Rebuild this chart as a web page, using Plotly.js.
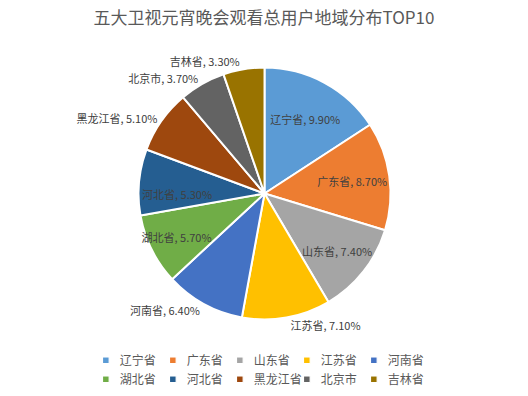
<!DOCTYPE html>
<html>
<head>
<meta charset="utf-8">
<script src="https://cdn.plot.ly/plotly-3.0.1.min.js"></script>
<style>html,body{margin:0;padding:0;background:#fff;}#chart{width:528px;height:396px;}</style>
</head>
<body>
<div id="chart"></div>
<script>
const titleText = '五大卫视元宵晚会观看总用户地域分布TOP10';
const regions = ['辽宁省','广东省','山东省','江苏省','河南省','湖北省','河北省','黑龙江省','北京市','吉林省'];
const shares = [9.9, 8.7, 7.4, 7.1, 6.4, 5.7, 5.3, 5.1, 3.7, 3.3];
const sliceColors = ['#5B9BD5','#ED7D31','#A5A5A5','#FFC000','#4472C4','#70AD47','#255E91','#9E480E','#636363','#997300'];
const labelPlacement = ['inside','inside','inside','outside','outside','inside','inside','outside','outside','outside'];

const font = '"Noto Sans CJK SC", "Noto Sans", sans-serif';
const trace = {
  type: 'pie',
  labels: regions,
  values: shares,
  sort: false,
  direction: 'clockwise',
  rotation: 0,
  marker: {colors: sliceColors, line: {color: '#ffffff', width: 2}},
  texttemplate: '%{label}, %{value:.2f}%',
  textposition: labelPlacement,
  insidetextorientation: 'horizontal',
  textfont: {family: font, size: 11, color: '#404040'},
  outsidetextfont: {family: font, size: 11, color: '#404040'},
  insidetextfont: {family: font, size: 11, color: '#404040'},
  hoverinfo: 'none',
  domain: {x: [0.159, 0.8438], y: [0.1932, 0.8295]}
};
const layout = {
  width: 528, height: 396,
  paper_bgcolor: 'rgba(0,0,0,0)',
  plot_bgcolor: 'rgba(0,0,0,0)',
  margin: {l: 80, r: 80, t: 0, b: 0},
  title: {text: titleText, font: {family: font, size: 17, color: '#595959'}, x: 0.5, xanchor: 'center', y: 0.955, yanchor: 'middle'},
  showlegend: true,
  uniformtext: {minsize: 11, mode: 'show'},
  legend: {
    orientation: 'h', x: 0.4547, xanchor: 'center', y: 0.066, yanchor: 'middle',
    bgcolor: 'rgba(0,0,0,0)',
    font: {family: font, size: 12, color: '#595959'},
    entrywidth: 22, entrywidthmode: 'pixels',
    itemwidth: 30, tracegroupgap: 0
  }
};
Plotly.newPlot('chart', [trace], layout, {displayModeBar: false, staticPlot: true}).then(function (gd) {
  gd.querySelectorAll('.legendpoints path').forEach(function (p) {
    p.setAttribute('transform', (p.getAttribute('transform') || '') + ' translate(6,0) scale(0.55)');
  });
  gd.querySelectorAll('.legend .scrollbox, .legend').forEach(function (el) {
    el.removeAttribute('clip-path');
  });
});
</script>
</body>
</html>
